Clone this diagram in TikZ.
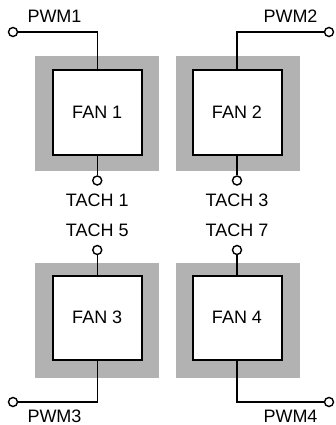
\documentclass[tikz,border=0pt]{standalone}
\usepackage{fontspec}
\setmainfont{Liberation Sans}
\begin{document}
\begin{tikzpicture}[x=1pt,y=-1pt,
  shade box/.style={fill=shadegray,draw=none,minimum width=124pt,minimum height=115pt,inner sep=0pt},
  fan box/.style={fill=white,draw=black,line width=2pt,minimum width=89pt,minimum height=84pt,inner sep=0pt,font=\fontsize{18}{21}\selectfont},
  pin/.style={circle,draw=black,fill=white,line width=1.4pt,minimum size=9pt,inner sep=0pt},
  wire/.style={draw=black,line width=1.4pt},
  lbl/.style={inner sep=0pt,font=\fontsize{18}{21}\selectfont}]
\definecolor{shadegray}{gray}{0.70}
\useasboundingbox (0,0) rectangle (336,425);
% shaded backgrounds
\node[shade box] (g1) at (97,113.5) {};
\node[shade box] (g2) at (237.5,113.5) {};
\node[shade box] (g3) at (97,320) {};
\node[shade box] (g4) at (237.5,320) {};
% fan boxes
\node[fan box] (f1) at (97.25,112.5) {FAN 1};
\node[fan box] (f2) at (237,112.5) {FAN 2};
\node[fan box] (f3) at (97.25,317.5) {FAN 3};
\node[fan box] (f4) at (237,317.5) {FAN 4};
% pins
\node[pin] (p1) at (13,32) {};
\node[pin] (p2) at (329,32) {};
\node[pin] (p3) at (13,402) {};
\node[pin] (p4) at (329,402) {};
\node[pin] (t1) at (97.25,180.5) {};
\node[pin] (t3) at (237,180.5) {};
\node[pin] (t5) at (97.25,250) {};
\node[pin] (t7) at (237,250) {};
% wires
\draw[wire] (f1.north) |- (p1);
\draw[wire] (f2.north) |- (p2);
\draw[wire] (f3.south) |- (p3);
\draw[wire] (f4.south) |- (p4);
\draw[wire] (f1.south) -- (t1);
\draw[wire] (f2.south) -- (t3);
\draw[wire] (f3.north) -- (t5);
\draw[wire] (f4.north) -- (t7);
% labels
\node[lbl] (l1) at (54.5,16.5) {PWM1};
\node[lbl] (l2) at (290.5,16.5) {PWM2};
\node[lbl] (l3) at (54.5,416) {PWM3};
\node[lbl] (l4) at (290.5,416) {PWM4};
\node[lbl] (lt1) at (97.25,200) {TACH 1};
\node[lbl] (lt3) at (237,200) {TACH 3};
\node[lbl] (lt5) at (97.25,230.5) {TACH 5};
\node[lbl] (lt7) at (237,230.5) {TACH 7};
\end{tikzpicture}
\end{document}
